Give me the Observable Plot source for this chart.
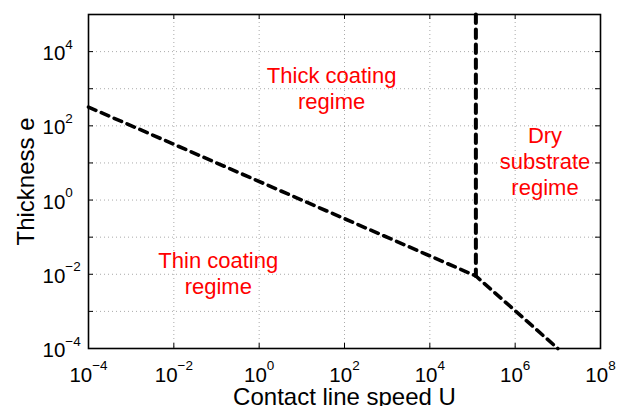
<!DOCTYPE html>
<html>
<head>
<meta charset="utf-8">
<script src="https://cdn.jsdelivr.net/npm/d3@7"></script>
<script src="https://cdn.jsdelivr.net/npm/@observablehq/plot@0.6"></script>
<style>
  html, body { margin: 0; padding: 0; background: #fff; }
</style>
</head>
<body>
<div id="chart"></div>
<script>
// ---- data ----
const xTicks = [1e-4, 1e-2, 1e0, 1e2, 1e4, 1e6, 1e8];
const xExps = ["−4", "−2", "0", "2", "4", "6", "8"];
const xGrid = [1e-2, 1e0, 1e2, 1e4, 1e6];
const yTicks = [1e-4, 1e-2, 1e0, 1e2, 1e4];
const yExps = ["−4", "−2", "0", "2", "4"];
const yDecades = [1e-4, 1e-3, 1e-2, 1e-1, 1e0, 1e1, 1e2, 1e3, 1e4, 1e5];
const yGrid = [1e-3, 1e-2, 1e-1, 1e0, 1e1, 1e2, 1e3, 1e4];

// boundary between thin and thick / dry regimes
const boundaryU = [1e-4, 1.2e5, 1e7];
const boundaryE = [320, 0.009, 1e-4];
// vertical boundary (dry substrate)
const dryU = [1.2e5, 1.2e5];
const dryE = [1e5, 0.009];

const regionLabels = ["Thick coating\nregime", "Dry\nsubstrate\nregime", "Thin coating\nregime"];
const regionU = [50, 5e6, 0.11];
const regionE = [290, 1.4, 0.003];

const xLabel = "Contact line speed U";
const yLabel = "Thickness e";

// tables built from the arrays
const boundary = boundaryU.map((u, i) => ({U: u, e: boundaryE[i]}));
const dry = dryU.map((u, i) => ({U: u, e: dryE[i]}));
const regions = regionLabels.map((t, i) => ({t, U: regionU[i], e: regionE[i]}));
const xTickData = xTicks.map((v, i) => ({v, s: "10^" + xExps[i]}));
const yTickData = yTicks.map((v, i) => ({v, s: "10^" + yExps[i]}));

const W = 618, H = 406, mL = 88, mR = 18, mT = 14, mB = 58;
const pw = W - mL - mR, ph = H - mT - mB;
const tickLen = 5;
const font = "'Liberation Sans', Arial, Helvetica, sans-serif";

const gridStyle = {stroke: "#a0a0a0", strokeWidth: 0.9, strokeDasharray: "1,3"};

const svg = Plot.plot({
  width: W,
  height: H,
  marginLeft: mL,
  marginRight: mR,
  marginTop: mT,
  marginBottom: mB,
  style: {fontFamily: font, background: "#fff", color: "#000", overflow: "visible"},
  x: {type: "log", domain: [1e-4, 1e8], axis: null},
  y: {type: "log", domain: [1e-4, 1e5], axis: null},
  marks: [
    // grid
    Plot.ruleX(xGrid, {...gridStyle}),
    Plot.ruleY(yGrid, {...gridStyle}),
    // boundaries
    Plot.line(boundary, {x: "U", y: "e", stroke: "#000", strokeWidth: 3.6, strokeDasharray: "8,6", strokeLinejoin: "miter"}),
    Plot.line(dry, {x: "U", y: "e", stroke: "#000", strokeWidth: 4, strokeDasharray: "8.5,6.5"}),
    // frame
    Plot.frame({stroke: "#000", strokeWidth: 1.6}),
    // ticks (inward, on all sides)
    Plot.ruleX(xTicks, {stroke: "#000", strokeWidth: 1, insetTop: ph - tickLen}),
    Plot.ruleX(xTicks, {stroke: "#000", strokeWidth: 1, insetBottom: ph - tickLen}),
    Plot.ruleY(yDecades, {stroke: "#000", strokeWidth: 1, insetRight: pw - tickLen}),
    Plot.ruleY(yDecades, {stroke: "#000", strokeWidth: 1, insetLeft: pw - tickLen}),
    // tick labels
    Plot.text(xTickData, {x: "v", text: "s", frameAnchor: "bottom", dy: 33, lineAnchor: "bottom",
      textAnchor: "middle", fontSize: 20.5, fill: "#000", ariaDescription: "tick-label"}),
    Plot.text(yTickData, {y: "v", text: "s", frameAnchor: "left", dx: -46, dy: 8.6, lineAnchor: "bottom",
      textAnchor: "start", fontSize: 20.5, fill: "#000", ariaDescription: "tick-label"}),
    // region labels
    Plot.text(regions, {x: "U", y: "e", text: "t", fill: "#ff0000", fontSize: 22, lineAnchor: "bottom",
      lineHeight: 1.18, textAnchor: "middle"}),
    // axis labels
    Plot.text([xLabel], {frameAnchor: "bottom", dy: 56, lineAnchor: "bottom", textAnchor: "middle", fontSize: 24, fill: "#000"}),
    Plot.text([yLabel], {frameAnchor: "left", dx: -55, rotate: -90, lineAnchor: "bottom", textAnchor: "middle", fontSize: 24, fill: "#000"})
  ]
});

// turn "10^e" into 10 with a raised exponent
for (const t of svg.querySelectorAll('g[aria-description="tick-label"] text')) {
  const parts = t.textContent.split("^");
  if (parts.length !== 2) continue;
  t.textContent = parts[0];
  const ts = document.createElementNS("http://www.w3.org/2000/svg", "tspan");
  ts.setAttribute("dy", "-11.5");
  ts.setAttribute("font-size", "13.5");
  ts.textContent = parts[1];
  t.appendChild(ts);
}

document.getElementById("chart").appendChild(svg);
</script>
</body>
</html>
